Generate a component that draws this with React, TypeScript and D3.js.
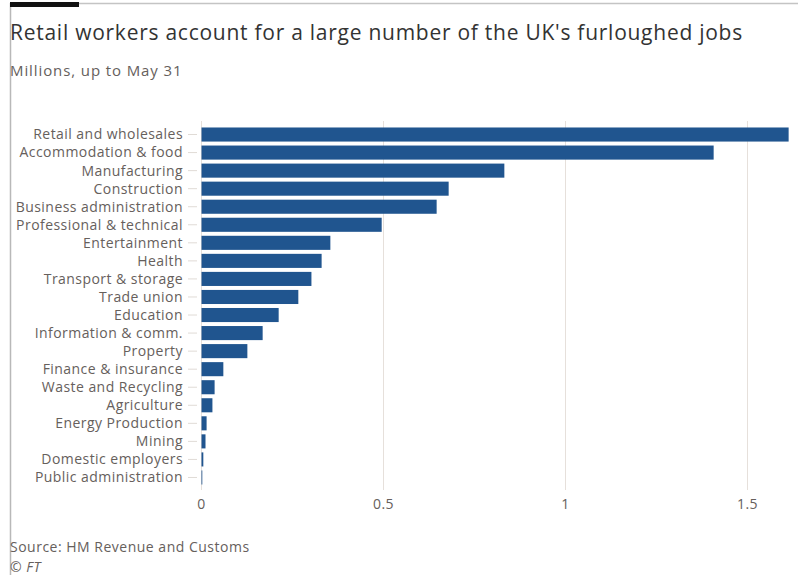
import React from "react";
import * as d3 from "d3";

const categories = [
  "Retail and wholesales",
  "Accommodation & food",
  "Manufacturing",
  "Construction",
  "Business administration",
  "Professional & technical",
  "Entertainment",
  "Health",
  "Transport & storage",
  "Trade union",
  "Education",
  "Information & comm.",
  "Property",
  "Finance & insurance",
  "Waste and Recycling",
  "Agriculture",
  "Energy Production",
  "Mining",
  "Domestic employers",
  "Public administration",
];
const values = [
  1.613, 1.407, 0.832, 0.679, 0.646, 0.495, 0.354, 0.33, 0.302, 0.266,
  0.212, 0.168, 0.126, 0.06, 0.036, 0.03, 0.014, 0.011, 0.005, 0.002,
];
const xTicks = [0, 0.5, 1, 1.5];
const xTickLabels = ["0", "0.5", "1", "1.5"];

const title = "Retail workers account for a large number of the UK's furloughed jobs";
const subtitle = "Millions, up to May 31";
const source = "Source: HM Revenue and Customs";
const credit = "© FT";

const W = 798;
const H = 575;
const FONT = "'Open Sans', 'Noto Sans', sans-serif";

export default function App() {
  const x = d3.scaleLinear().domain([0, 1.5]).range([201.5, 747.5]);
  const y = d3
    .scaleBand<string>()
    .domain(categories)
    .range([125.5, 486.5])
    .paddingInner(0.22)
    .paddingOuter(0.11);

  return (
    <svg
      width={W}
      height={H}
      style={{ position: "absolute", left: 0, top: 0, background: "#fff" }}
      fontFamily={FONT}
    >
      <rect x={0} y={0} width={W} height={H} fill="#fff" />
      {/* frame */}
      <line x1={10.5} y1={3} x2={10.5} y2={H} stroke="#b8b8b8" strokeWidth={1.5} />
      <line x1={10} y1={3.5} x2={W} y2={3.5} stroke="#c4c4c4" strokeWidth={1.5} />
      <rect x={10} y={2} width={69} height={5} fill="#111" />

      <text x={10} y={40} fontSize={21} letterSpacing={0.74} fill="#333">
        {title}
      </text>
      <text x={10} y={76} fontSize={15} letterSpacing={0.9} fill="#66605c">
        {subtitle}
      </text>

      {/* gridlines */}
      {xTicks.map((t, i) => (
        <g key={i}>
          <line
            x1={x(t)}
            x2={x(t)}
            y1={121}
            y2={490}
            stroke="#e6e0db"
            strokeWidth={1}
          />
          <text
            x={x(t)}
            y={509}
            fontSize={14}
            letterSpacing={0.4}
            fill="#66605c"
            textAnchor="middle"
          >
            {xTickLabels[i]}
          </text>
        </g>
      ))}

      {/* bars */}
      {categories.map((c, i) => {
        const cy = (y(c) as number) + y.bandwidth() / 2;
        return (
          <g key={c}>
            <line x1={188} x2={197} y1={cy} y2={cy} stroke="#e0dbd6" strokeWidth={1} />
            <text
              x={183}
              y={cy}
              dy="0.35em"
              fontSize={14}
              letterSpacing={0.45}
              fill="#66605c"
              textAnchor="end"
            >
              {c}
            </text>
            <rect
              x={x(0)}
              y={y(c)}
              width={Math.max(0.8, x(values[i]) - x(0))}
              height={y.bandwidth()}
              fill="#20558f"
            />
          </g>
        );
      })}

      <text x={10} y={552} fontSize={14} letterSpacing={0.5} fill="#66605c">
        {source}
      </text>
      <text x={10} y={572} fontSize={14} letterSpacing={0.5} fill="#66605c" fontStyle="italic">
        {credit}
      </text>
    </svg>
  );
}
